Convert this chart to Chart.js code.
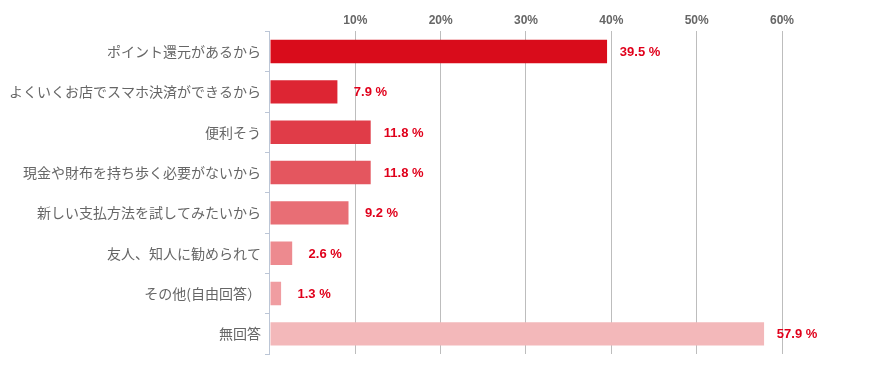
<!DOCTYPE html>
<html>
<head>
<meta charset="utf-8">
<script src="https://cdn.jsdelivr.net/npm/chart.js@4"></script>
<style>
html,body{margin:0;padding:0;background:#fff;}
#wrap{width:882px;height:369px;position:relative;}
</style>
</head>
<body>
<div id="wrap"><canvas id="c" width="882" height="369"></canvas></div>
<script>
const categories = [
  "ポイント還元があるから",
  "よくいくお店でスマホ決済ができるから",
  "便利そう",
  "現金や財布を持ち歩く必要がないから",
  "新しい支払方法を試してみたいから",
  "友人、知人に勧められて",
  "その他(自由回答）",
  "無回答"
];
const values = [39.5, 7.9, 11.8, 11.8, 9.2, 2.6, 1.3, 57.9];
const barColors = ["#d90c1b", "#dd2533", "#e03c48", "#e4565f", "#e86e75", "#ed8a8f", "#f09da1", "#f3b8ba"];
const tickValues = [10, 20, 30, 40, 50, 60];

const labelPlugin = {
  id: 'valueLabels',
  afterDatasetsDraw(chart) {
    const ctx = chart.ctx;
    const meta = chart.getDatasetMeta(0);
    ctx.save();
    ctx.font = 'bold 13px "Liberation Sans", Arial, sans-serif';
    ctx.fillStyle = '#e0001b';
    ctx.textAlign = 'center';
    ctx.textBaseline = 'middle';
    meta.data.forEach((bar, i) => {
      ctx.fillText(values[i].toFixed(1) + ' %', bar.x + 33, bar.y + 1);
    });
    ctx.restore();
  }
};

new Chart(document.getElementById('c'), {
  type: 'bar',
  data: {
    labels: categories,
    datasets: [{
      data: values,
      backgroundColor: barColors,
      borderWidth: 0,
      categoryPercentage: 1,
      barPercentage: 0.58
    }]
  },
  options: {
    indexAxis: 'y',
    responsive: false,
    animation: false,
    devicePixelRatio: 1,
    layout: { padding: { left: 5, right: 100, top: 9, bottom: 15 } },
    plugins: { legend: { display: false }, tooltip: { enabled: false } },
    scales: {
      x: {
        position: 'top',
        min: 0,
        max: 60,
        afterBuildTicks(scale) {
          scale.ticks = [0].concat(tickValues).map(v => ({ value: v }));
        },
        border: { display: false },
        grid: {
          color: ctx => (ctx.tick && ctx.tick.value === 0) ? 'rgba(0,0,0,0)' : '#bdbdbd',
          lineWidth: 1,
          tickLength: 0,
          drawTicks: false
        },
        ticks: {
          padding: 4,
          color: '#666',
          font: { family: '"Liberation Sans", Arial, sans-serif', size: 12, weight: 'bold' },
          callback: v => v === 0 ? '' : v + '%'
        }
      },
      y: {
        border: { display: true, color: '#bcc6d6', width: 1 },
        grid: {
          offset: true,
          drawOnChartArea: false,
          drawTicks: true,
          tickLength: 5,
          color: '#bcc6d6'
        },
        ticks: {
          padding: 4,
          color: '#666',
          font: { family: '"Noto Sans CJK JP", sans-serif', size: 14 }
        }
      }
    }
  },
  plugins: [labelPlugin]
});
</script>
</body>
</html>
